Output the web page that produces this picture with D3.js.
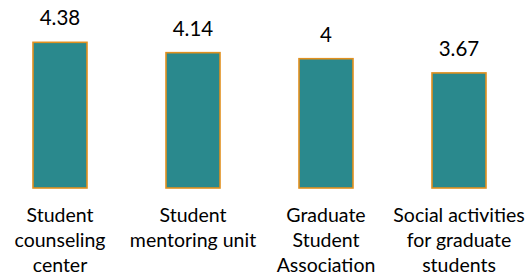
<!DOCTYPE html>
<html>
<head>
<meta charset="utf-8">
<script src="https://cdn.jsdelivr.net/npm/d3@7"></script>
<style>
  body { margin: 0; background: #fff; }
  text { font-family: Lato, "Open Sans", sans-serif; fill: #000; }
</style>
</head>
<body>
<svg width="527" height="277"></svg>
<script>
var svg = d3.select("svg"),
  width = +svg.attr("width"),
  height = +svg.attr("height");

// categories, split into the lines shown under each bar
var categories = ["counseling", "mentoring", "association", "social"];
var labelLines = [
  ["Student", "counseling", "center"],
  ["Student", "mentoring unit"],
  ["Graduate", "Student", "Association"],
  ["Social activities", "for graduate", "students"]
];
var values = [4.38, 4.14, 4, 3.67];
var valueLabels = ["4.38", "4.14", "4", "3.67"];

var x = d3.scaleBand()
  .domain(categories)
  .range([-6.5, 525.5])
  .paddingInner(0.594)
  .paddingOuter(0.297);

// the value axis starts at 1 in the source chart
var y = d3.scaleLinear()
  .domain([1, 5])
  .range([188, 15.6]);

svg.append("g")
  .selectAll("rect")
  .data(values)
  .enter().append("rect")
  .attr("x", function(d, i) { return x(categories[i]); })
  .attr("y", function(d) { return y(d); })
  .attr("width", x.bandwidth())
  .attr("height", function(d) { return y(1) - y(d); })
  .attr("fill", "#2a898d")
  .attr("stroke", "#e1901e")
  .attr("stroke-width", 1.6);

svg.append("g")
  .selectAll("text")
  .data(values)
  .enter().append("text")
  .attr("x", function(d, i) { return x(categories[i]) + x.bandwidth() / 2; })
  .attr("y", function(d) { return y(d) - 17; })
  .attr("text-anchor", "middle")
  .attr("font-size", 20.5)
  .text(function(d, i) { return valueLabels[i]; });

var cat = svg.append("g")
  .selectAll("text")
  .data(labelLines)
  .enter().append("text")
  .attr("text-anchor", "middle")
  .attr("font-size", 19.5)
  .attr("transform", function(d, i) {
    return "translate(" + (x(categories[i]) + x.bandwidth() / 2) + ",222)";
  });

cat.selectAll("tspan")
  .data(function(d) { return d; })
  .enter().append("tspan")
  .attr("x", 0)
  .attr("y", function(d, j) { return j * 25; })
  .text(function(d) { return d; });
</script>
</body>
</html>
